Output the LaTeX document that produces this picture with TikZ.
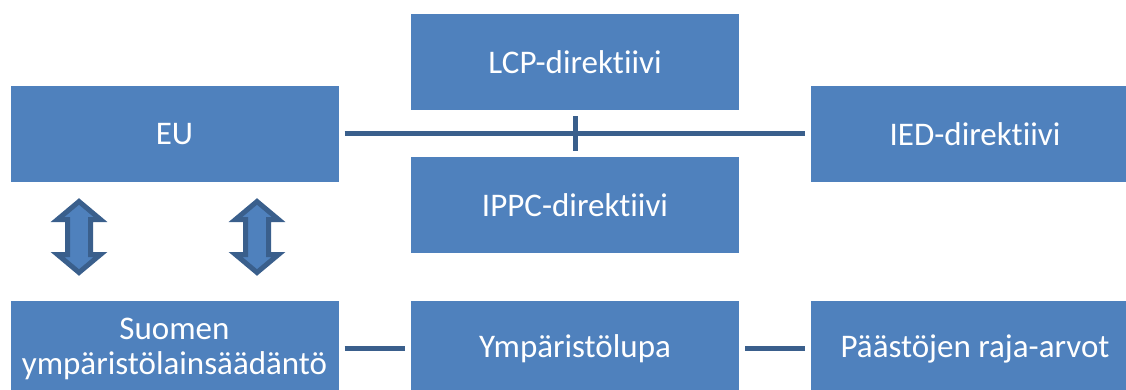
\documentclass[tikz,border=0pt]{standalone}
\usepackage{fontspec}
\setmainfont{Carlito}[Ligatures=NoCommon]
\definecolor{boxblue}{HTML}{4F81BD}
\definecolor{edgeblue}{HTML}{3A5F8C}
\tikzset{
  blockbox/.style={fill=boxblue, draw=none, text=white, minimum width=328pt,
    minimum height=96pt, inner sep=0pt, align=center,
    font=\fontsize{33}{35}\selectfont},
  linkline/.style={draw=edgeblue, line width=5pt, shorten <=6pt, shorten >=5.5pt},
  dblarrow/.style={fill=boxblue, draw=edgeblue, line width=5pt, line join=miter},
  updown/.pic={
    \draw[dblarrow] (0,-35.5) -- (21.5,-17.5) -- (11.5,-17.5) -- (11.5,17.5)
      -- (21.5,17.5) -- (0,35.5) -- (-21.5,17.5) -- (-11.5,17.5)
      -- (-11.5,-17.5) -- (-21.5,-17.5) -- cycle;
  }
}
\begin{document}
\begin{tikzpicture}[x=1pt, y=-1pt]
  \useasboundingbox (0,0) rectangle (1126,390);

  % upper level: EU and its directives
  \node[blockbox] (eu)   at (174.5,134) {EU};
  \node[blockbox] (lcp)  at (575,62)    {LCP-direktiivi};
  \node[blockbox] (ippc) at (575,205)   {IPPC-direktiivi};
  \node[blockbox] (ied)  at (975,134)   {IED-direktiivi};

  % lower level: national legislation
  \node[blockbox] (fin)   at (174.5,349) {Suomen\\ympäristölainsäädäntö};
  \node[blockbox] (lupa)  at (575,349)   {Ympäristölupa};
  \node[blockbox] (rajat) at (975,349)   {Päästöjen raja-arvot};

  % connectors
  \draw[linkline] (eu.east) -- (ied.west);
  \draw[linkline] (lcp.south) -- (ippc.north);
  \draw[linkline] (fin.east |- 0,348) -- (lupa.west |- 0,348);
  \draw[linkline] (lupa.east |- 0,348) -- (rajat.west |- 0,348);

  % two-way arrows between the levels
  \coordinate (a1) at (79,237);
  \coordinate (a2) at (257,237);
  \pic at (a1) {updown};
  \pic at (a2) {updown};
\end{tikzpicture}
\end{document}
